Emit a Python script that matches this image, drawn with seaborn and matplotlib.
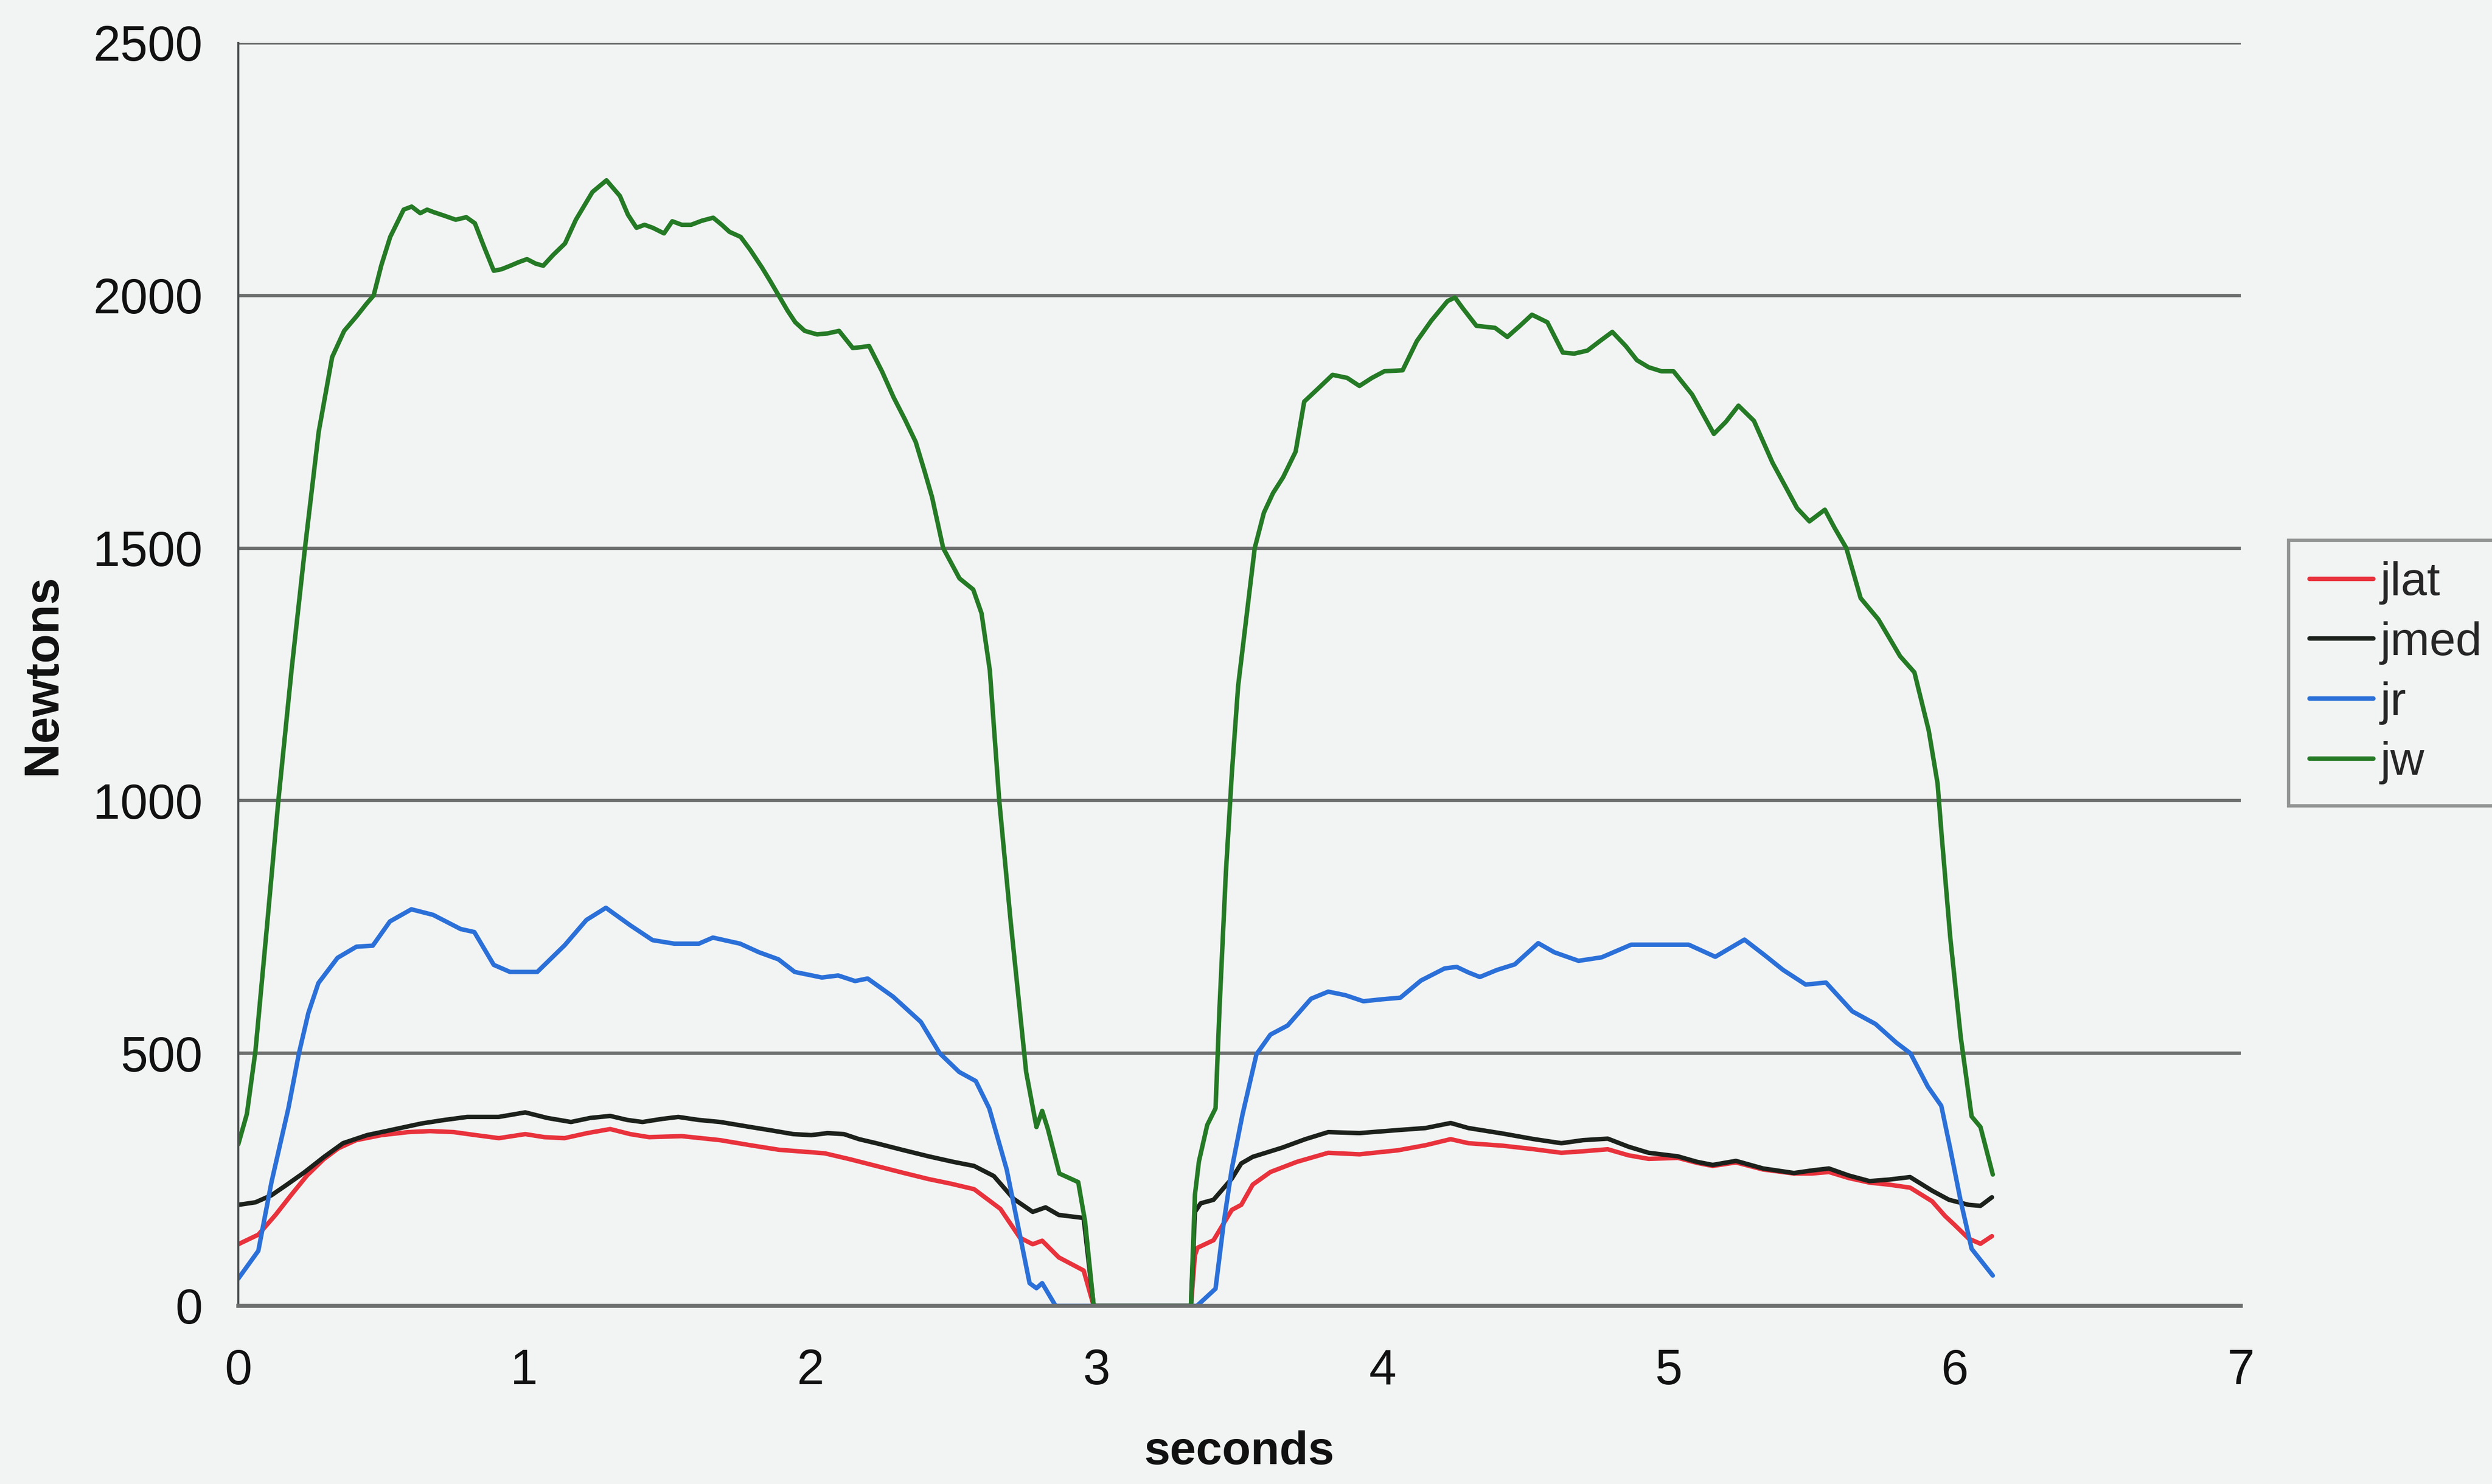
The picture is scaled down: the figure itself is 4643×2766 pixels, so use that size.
import numpy as np
import pandas as pd
import matplotlib
matplotlib.use("Agg")
import matplotlib.pyplot as plt
import seaborn as sns

# ---- joint force traces (seconds, Newtons) ----
jw_t = [0.00, 0.03, 0.06, 0.10, 0.14, 0.186, 0.233, 0.281, 0.328, 0.37, 0.415, 0.45, 0.473,
        0.50, 0.531, 0.578, 0.606, 0.636, 0.66, 0.683, 0.72, 0.76, 0.797, 0.827, 0.86, 0.893,
        0.92, 0.951, 0.98, 1.009, 1.04, 1.066, 1.10, 1.142, 1.18, 1.238, 1.287, 1.334, 1.362,
        1.392, 1.42, 1.449, 1.488, 1.517, 1.55, 1.583, 1.62, 1.66, 1.69, 1.717, 1.756, 1.79,
        1.831, 1.86, 1.889, 1.92, 1.947, 1.98, 2.023, 2.06, 2.10, 2.148, 2.18, 2.205, 2.25,
        2.291, 2.33, 2.368, 2.40, 2.425, 2.464, 2.521, 2.569, 2.598, 2.627, 2.66, 2.70, 2.754,
        2.79, 2.81, 2.83, 2.87, 2.936, 2.96, 2.99,
        3.33, 3.344, 3.358, 3.387, 3.416, 3.43, 3.452, 3.473, 3.495, 3.523, 3.553, 3.585,
        3.617, 3.652, 3.696, 3.726, 3.775, 3.825, 3.876, 3.919, 3.963, 4.006, 4.07, 4.12,
        4.17, 4.227, 4.253, 4.28, 4.328, 4.393, 4.436, 4.48, 4.522, 4.576, 4.63, 4.67, 4.716,
        4.76, 4.803, 4.85, 4.889, 4.93, 4.975, 5.017, 5.082, 5.12, 5.158, 5.20, 5.244, 5.298,
        5.363, 5.41, 5.449, 5.492, 5.546, 5.58, 5.621, 5.671, 5.733, 5.809, 5.859, 5.909,
        5.94, 5.953, 5.984, 6.021, 6.059, 6.09, 6.133]
jw_n = [320, 380, 505, 750, 1000, 1258, 1500, 1730, 1878, 1930, 1960, 1985, 2000,
        2060, 2116, 2170, 2176, 2163, 2170, 2165, 2158, 2150, 2155, 2143, 2095, 2049,
        2052, 2059, 2066, 2072, 2063, 2059, 2080, 2103, 2150, 2205, 2228, 2197, 2160,
        2134, 2140, 2134, 2123, 2147, 2140, 2140, 2148, 2154, 2140, 2126, 2116, 2090,
        2055, 2028, 2000, 1970, 1947, 1930, 1923, 1925, 1930, 1896, 1898, 1900, 1850,
        1798, 1755, 1710, 1650, 1601, 1500, 1440, 1418, 1371, 1258, 1000, 760, 463,
        354, 386, 350, 262, 245, 167, 0,
        0, 220, 286, 358, 391, 590, 856, 1054, 1227, 1359, 1500, 1570,
        1609, 1640, 1691, 1790, 1816, 1843, 1837, 1821, 1837, 1850, 1852, 1910,
        1950, 1989, 1996, 1975, 1940, 1936, 1918, 1940, 1962, 1947, 1887, 1885, 1891,
        1910, 1928, 1900, 1872, 1858, 1850, 1850, 1804, 1765, 1726, 1750, 1782, 1752,
        1669, 1620, 1579, 1553, 1576, 1540, 1500, 1401, 1359, 1286, 1254, 1139,
        1034, 940, 731, 532, 375, 354, 260]

jr_t = [0.00, 0.07, 0.116, 0.175, 0.212, 0.245, 0.28, 0.347, 0.413, 0.47, 0.53, 0.605, 0.681,
        0.777, 0.825, 0.893, 0.95, 1.045, 1.141, 1.217, 1.285, 1.371, 1.448, 1.524, 1.61,
        1.659, 1.754, 1.82, 1.888, 1.945, 2.04, 2.097, 2.156, 2.20, 2.289, 2.386, 2.452,
        2.52, 2.578, 2.625, 2.686, 2.766, 2.79, 2.81, 2.857,
        3.351, 3.416, 3.445, 3.473, 3.51, 3.559, 3.608, 3.668, 3.75, 3.81, 3.87, 3.933,
        4.00, 4.062, 4.134, 4.217, 4.259, 4.30, 4.34, 4.40, 4.462, 4.544, 4.60, 4.685,
        4.766, 4.869, 4.93, 4.99, 5.07, 5.163, 5.265, 5.336, 5.40, 5.479, 5.55, 5.642,
        5.723, 5.796, 5.845, 5.906, 5.953, 5.984, 6.021, 6.059, 6.133]
jr_n = [54, 109, 245, 391, 500, 580, 639, 689, 711, 713, 761, 785, 774,
        746, 740, 675, 661, 661, 714, 764, 788, 753, 724, 717, 717,
        729, 717, 700, 686, 661, 650, 654, 643, 648, 612, 562, 500,
        463, 445, 391, 270, 45, 35, 45, 0,
        0, 34, 166, 272, 378, 498, 537, 555, 608, 622, 615, 603,
        607, 610, 644, 668, 671, 660, 651, 665, 676, 718, 700, 683,
        690, 715, 715, 715, 715, 691, 725, 694, 665, 636, 640, 583,
        558, 521, 500, 434, 396, 312, 207, 113, 60]

jmed_t = [0.00, 0.06, 0.116, 0.17, 0.23, 0.30, 0.366, 0.45, 0.525, 0.64, 0.72, 0.80, 0.91,
          1.003, 1.08, 1.163, 1.23, 1.30, 1.36, 1.413, 1.48, 1.538, 1.61, 1.685, 1.78,
          1.867, 1.94, 2.003, 2.06, 2.117, 2.17, 2.23, 2.32, 2.413, 2.50, 2.572, 2.641,
          2.71, 2.777, 2.822, 2.868, 2.955, 2.99,
          3.33, 3.344, 3.364, 3.409, 3.473, 3.506, 3.546, 3.648, 3.73, 3.81, 3.919, 4.054,
          4.15, 4.238, 4.30, 4.421, 4.53, 4.625, 4.70, 4.787, 4.86, 4.93, 5.032, 5.10,
          5.154, 5.235, 5.33, 5.438, 5.50, 5.56, 5.63, 5.702, 5.77, 5.844, 5.921, 5.98,
          6.049, 6.09, 6.13]
jmed_n = [200, 205, 219, 240, 264, 295, 322, 338, 347, 361, 368, 374, 374,
          383, 372, 364, 372, 376, 368, 364, 370, 374, 368, 364, 355,
          347, 340, 338, 342, 340, 330, 322, 309, 296, 285, 277, 257,
          212, 186, 195, 180, 174, 0,
          0, 186, 203, 210, 252, 282, 295, 313, 330, 344, 342, 348,
          352, 362, 352, 341, 330, 322, 328, 331, 315, 303, 296, 285,
          279, 287, 272, 263, 268, 272, 258, 247, 250, 255, 228, 210,
          200, 198, 215]

jlat_t = [0.00, 0.07, 0.13, 0.184, 0.24, 0.298, 0.35, 0.412, 0.50, 0.594, 0.67, 0.753, 0.83,
          0.911, 1.003, 1.07, 1.14, 1.22, 1.30, 1.37, 1.436, 1.55, 1.685, 1.79, 1.89, 2.05,
          2.14, 2.23, 2.32, 2.413, 2.49, 2.572, 2.664, 2.732, 2.777, 2.81, 2.868, 2.955, 2.99,
          3.33, 3.344, 3.353, 3.409, 3.473, 3.506, 3.546, 3.608, 3.70, 3.81, 3.919, 4.054,
          4.15, 4.238, 4.30, 4.421, 4.53, 4.625, 4.70, 4.787, 4.86, 4.93, 5.032, 5.10,
          5.154, 5.235, 5.33, 5.438, 5.50, 5.56, 5.63, 5.702, 5.77, 5.844, 5.921, 5.966,
          6.00, 6.049, 6.09, 6.13]
jlat_n = [122, 141, 180, 219, 258, 290, 312, 328, 338, 344, 346, 344, 338,
          332, 340, 334, 332, 342, 350, 340, 334, 336, 328, 318, 309, 302,
          290, 277, 264, 251, 242, 231, 192, 135, 122, 129, 96, 70, 0,
          0, 100, 115, 130, 190, 200, 240, 265, 285, 303, 300, 308,
          318, 330, 322, 317, 310, 303, 306, 310, 298, 291, 293, 283,
          277, 284, 270, 262, 262, 265, 253, 244, 240, 234, 207, 178,
          160, 133, 123, 138]

series_names = ["jlat", "jmed", "jr", "jw"]
series_colors = {"jlat": "#e8323c", "jmed": "#1c211c", "jr": "#2b70d8", "jw": "#257a25"}

x_ticks = [0, 1, 2, 3, 4, 5, 6, 7]
y_ticks = [0, 500, 1000, 1500, 2000, 2500]

frames = []
for name, t, n in [("jlat", jlat_t, jlat_n), ("jmed", jmed_t, jmed_n),
                   ("jr", jr_t, jr_n), ("jw", jw_t, jw_n)]:
    frames.append(pd.DataFrame({"seconds": t, "Newtons": n, "series": name}))
df = pd.concat(frames, ignore_index=True)

sns.set_style("white")
plt.rcParams["font.family"] = ["Liberation Sans", "DejaVu Sans"]

paper = "#f2f4f4"
grid_c = "#6c6e6e"

W, H, DPI = 4643, 2766, 300
fig = plt.figure(figsize=(W / DPI, H / DPI), dpi=DPI, facecolor=paper)
ax = fig.add_axes([444 / W, 1 - 2434 / H, (4175 - 444) / W, (2434 - 80) / H])
ax.set_facecolor(paper)

sns.lineplot(data=df, x="seconds", y="Newtons", hue="series", hue_order=series_names,
             palette=series_colors, estimator=None, sort=False, linewidth=2.0,
             ax=ax, legend=True)
for line in ax.get_lines():
    line.set_solid_joinstyle("round")
    line.set_solid_capstyle("round")

ax.set_xlim(0, 7)
ax.set_ylim(0, 2500)
ax.set_xticks(x_ticks)
ax.set_yticks(y_ticks)
ax.set_xticklabels([str(v) for v in x_ticks])
ax.set_yticklabels([str(v) for v in y_ticks])

for yv in y_ticks[1:]:
    ax.axhline(yv, color=grid_c, linewidth=1.5, zorder=0.5)

for side in ["top", "right"]:
    ax.spines[side].set_visible(False)
ax.spines["left"].set_color("#4a4d4d")
ax.spines["left"].set_linewidth(0.9)
ax.spines["bottom"].set_color(grid_c)
ax.spines["bottom"].set_linewidth(1.8)

ax.tick_params(axis="x", direction="out", length=9, width=0.9, color="#4a4d4d",
               labelsize=22, pad=10, labelcolor="#111111")
ax.tick_params(axis="y", direction="out", length=7, width=1.5, color=grid_c,
               labelsize=22, pad=9, labelcolor="#111111")

ax.set_xlabel("seconds", fontsize=21, fontweight="bold", labelpad=16, color="#111111")
ax.set_ylabel("Newtons", fontsize=21.5, fontweight="bold", labelpad=12, color="#111111")

handles, labels = ax.get_legend_handles_labels()
ax.get_legend().remove()
leg = fig.legend(handles, labels, loc="upper left",
                 bbox_to_anchor=(4264 / W, 1 - 1007 / H), bbox_transform=fig.transFigure,
                 frameon=True, fancybox=False, fontsize=21, handlelength=1.35,
                 handletextpad=0.15, labelspacing=0.35, borderpad=0.45,
                 borderaxespad=0)
leg.get_frame().set_edgecolor("#7b7d7d")
leg.get_frame().set_linewidth(1.5)
leg.get_frame().set_facecolor(paper)
for line in leg.get_lines():
    line.set_linewidth(2.0)

fig.savefig("out.png", dpi=DPI, facecolor=paper)
